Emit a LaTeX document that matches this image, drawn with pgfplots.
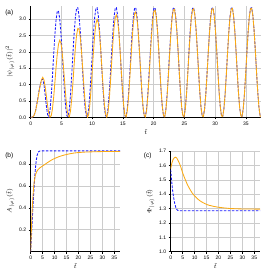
\documentclass[border=0pt]{standalone}
\usepackage{fontspec}
\setmainfont{Liberation Sans}
\usepackage{pgfplots}
\usepackage{pgfplotstable}
\pgfplotsset{compat=1.18}
\definecolor{myorange}{RGB}{250,170,20}
\definecolor{myblue}{RGB}{25,25,255}

\pgfplotstableread{
t b o
0 0 0
0.196 0.003 0.003
0.393 0.02 0.02
0.589 0.08 0.075
0.785 0.20 0.19
0.982 0.39 0.37
1.178 0.61 0.58
1.374 0.83 0.80
1.571 1.01 1.00
1.767 1.15 1.15
1.963 1.16 1.22
2.160 1.00 1.14
2.356 0.68 0.93
2.553 0.34 0.643
2.749 0.085 0.352
2.945 0.001 0.121
3.142 0.22 0.006
3.338 0.65 0.046
3.534 1.24 0.252
3.731 1.91 0.604
3.927 2.51 1.052
4.123 2.97 1.520
4.320 3.23 1.934
4.516 3.25 2.228
4.712 3.02 2.351
4.909 2.58 2.273
5.105 2.00 2.010
5.301 1.36 1.605
5.498 0.76 1.127
5.694 0.30 0.654
5.890 0.041 0.269
6.087 0.024 0.041
6.283 0.259 0.015
6.480 0.711 0.201
6.676 1.311 0.572
6.872 1.968 1.072
7.069 2.582 1.620
7.265 3.060 2.125
7.461 3.328 2.511
7.658 3.346 2.713
7.854 3.111 2.696
8.050 2.659 2.461
8.247 2.059 2.049
8.443 1.402 1.525
8.639 0.785 0.975
8.836 0.310 0.487
9.032 0.042 0.143
9.228 0.024 0.002
9.425 0.259 0.087
9.621 0.711 0.388
9.817 1.311 0.861
10.014 1.968 1.433
10.210 2.582 2.014
10.407 3.060 2.517
10.603 3.328 2.860
10.799 3.346 2.991
10.996 3.111 2.885
11.192 2.659 2.557
11.388 2.059 2.061
11.585 1.402 1.476
11.781 0.785 0.893
11.977 0.310 0.406
12.174 0.042 0.093
12.370 0.024 0.002
12.566 0.259 0.149
12.763 0.711 0.512
12.959 1.311 1.039
13.155 1.968 1.647
13.352 2.582 2.242
13.548 3.060 2.734
13.744 3.328 3.045
13.941 3.346 3.126
14.137 3.111 2.965
14.334 2.659 2.588
14.530 2.059 2.052
14.726 1.402 1.440
14.923 0.785 0.847
15.119 0.310 0.365
15.315 0.042 0.070
15.512 0.024 0.008
15.708 0.259 0.190
15.904 0.711 0.591
16.101 1.311 1.148
16.297 1.968 1.776
16.493 2.582 2.380
16.690 3.060 2.866
16.886 3.328 3.161
17.082 3.346 3.218
17.279 3.111 3.029
17.475 2.659 2.620
17.671 2.059 2.057
17.868 1.402 1.426
18.064 0.785 0.823
18.261 0.310 0.343
18.457 0.042 0.058
18.653 0.024 0.013
18.850 0.259 0.216
19.046 0.711 0.647
19.242 1.311 1.222
19.439 1.968 1.861
19.635 2.582 2.469
19.831 3.060 2.951
20.028 3.328 3.234
20.224 3.346 3.275
20.420 3.111 3.067
20.617 2.659 2.642
20.813 2.059 2.065
21.009 1.402 1.424
21.206 0.785 0.816
21.402 0.310 0.335
21.598 0.042 0.054
21.795 0.024 0.015
21.991 0.259 0.235
22.188 0.711 0.669
22.384 1.311 1.253
22.580 1.968 1.899
22.777 2.582 2.509
22.973 3.060 2.990
23.169 3.328 3.269
23.366 3.346 3.302
23.562 3.111 3.085
23.758 2.659 2.651
23.955 2.059 2.066
24.151 1.402 1.419
24.347 0.785 0.809
24.544 0.310 0.328
24.740 0.042 0.050
24.936 0.024 0.018
25.133 0.259 0.243
25.329 0.711 0.683
25.525 1.311 1.273
25.722 1.968 1.923
25.918 2.582 2.534
26.114 3.060 3.012
26.311 3.328 3.286
26.507 3.346 3.315
26.704 3.111 3.092
26.900 2.659 2.652
27.096 2.059 2.062
27.293 1.402 1.411
27.489 0.785 0.798
27.685 0.310 0.321
27.882 0.042 0.047
28.078 0.024 0.020
28.274 0.259 0.249
28.471 0.711 0.692
28.667 1.311 1.285
28.863 1.968 1.938
29.060 2.582 2.550
29.256 3.060 3.028
29.452 3.328 3.300
29.649 3.346 3.324
29.845 3.111 3.097
30.041 2.659 2.652
30.238 2.059 2.059
30.434 1.402 1.406
30.631 0.785 0.793
30.827 0.310 0.317
31.023 0.042 0.045
31.220 0.024 0.021
31.416 0.259 0.253
31.612 0.711 0.699
31.809 1.311 1.295
32.005 1.968 1.947
32.201 2.582 2.559
32.398 3.060 3.036
32.594 3.328 3.306
32.790 3.346 3.328
32.987 3.111 3.098
33.183 2.659 2.651
33.379 2.059 2.056
33.576 1.402 1.403
33.772 0.785 0.788
33.969 0.310 0.313
34.165 0.042 0.044
34.361 0.024 0.022
34.558 0.259 0.255
34.754 0.711 0.703
34.950 1.311 1.300
35.147 1.968 1.954
35.343 2.582 2.566
35.539 3.060 3.043
35.736 3.328 3.312
35.932 3.346 3.332
36.128 3.111 3.100
36.325 2.659 2.653
36.521 2.059 2.055
36.717 1.402 1.401
36.914 0.785 0.787
37.110 0.310 0.312
37.306 0.042 0.043
37.4 0.0 0.0
}\dataA

\pgfplotstableread{
t A
0 0
0.3 0.13
0.6 0.26
0.9 0.39
1.2 0.51
1.5 0.62
1.8 0.71
2.1 0.785
2.4 0.84
2.7 0.877
3.0 0.898
3.3 0.909
3.6 0.914
4.0 0.916
5.0 0.917
37.4 0.917
}\Ablue

\pgfplotstableread{
t A
0 0
0.1 0.075
0.2 0.15
0.3 0.21
0.45 0.29
0.6 0.37
0.8 0.45
1.0 0.52
1.25 0.59
1.5 0.64
1.75 0.675
2.0 0.70
2.5 0.728
3.0 0.745
3.5 0.756
4 0.765
5 0.78
6 0.795
7 0.81
8 0.824
9 0.837
10 0.848
12 0.866
14 0.879
16 0.889
18 0.897
20 0.902
22.5 0.906
25 0.908
30 0.911
37.4 0.912
}\Aorange

\pgfplotstableread{
t P
0 1.571
0.35 1.50
0.7 1.44
1.05 1.395
1.4 1.36
1.75 1.33
2.1 1.31
2.45 1.297
2.8 1.289
3.2 1.286
3.6 1.285
37.4 1.285
}\Pblue

\pgfplotstableread{
t P
0 1.577
0.5 1.617
1 1.641
1.5 1.653
2 1.657
2.5 1.652
3 1.637
3.5 1.620
4 1.600
4.5 1.575
5 1.548
6 1.505
7 1.466
8 1.435
9 1.408
10 1.388
11 1.371
12 1.357
13 1.346
14 1.337
15 1.329
16 1.323
18 1.315
20 1.309
22.5 1.304
25 1.300
30 1.297
37.4 1.296
}\Porange

\pgfplotsset{
  panel/.style={
    scale only axis,
    anchor=south west,
    axis lines*=left,
    xmin=0, xmax=37.4,
    xtick={0,5,10,15,20,25,30,35},
    grid=major,
    grid style={gray!40, line width=0.45pt},
    tick align=outside,
    major tick length=2pt,
    tick style={black, line width=0.4pt},
    axis line style={black, line width=0.5pt},
    tick label style={font=\fontsize{5}{6}\selectfont},
    label style={font=\fontsize{6}{7}\selectfont},
    /pgf/number format/assume math mode=true,
    xticklabel style={/pgf/number format/fixed, yshift=1pt},
    yticklabel style={/pgf/number format/fixed, /pgf/number format/fixed zerofill, /pgf/number format/precision=1, xshift=1pt},
    xlabel={$\tilde{t}$},
    xlabel style={yshift=3pt},
    ylabel style={yshift=-2pt},
    clip=true,
  },
  bl/.style={myblue, line width=0.85pt, dash pattern=on 2.6pt off 1.4pt},
  or/.style={myorange, line width=0.85pt},
}

\begin{document}
\begin{tikzpicture}
\path[use as bounding box] (0pt,0pt) rectangle (275pt,275pt);

\begin{axis}[panel, at={(30.7pt,157.7pt)}, width=230pt, height=111.3pt,
  ymin=0, ymax=3.4, ytick={0,0.5,1,1.5,2,2.5,3},
  ylabel={$|\psi_{|\varphi\rangle}(\tilde{t})|^2$}]
\addplot[bl] table[x=t,y=b]{\dataA};
\addplot[or] table[x=t,y=o]{\dataA};
\end{axis}

\begin{axis}[panel, at={(30.7pt,23.3pt)}, width=89.3pt, height=101.7pt,
  ymin=0, ymax=0.925, ytick={0.2,0.4,0.6,0.8},
  ylabel={$A_{|\varphi\rangle}(\tilde{t})$}]
\addplot[bl] table[x=t,y=A]{\Ablue};
\addplot[or] table[x=t,y=A]{\Aorange};
\end{axis}

\begin{axis}[panel, at={(170.7pt,23.3pt)}, width=89.3pt, height=100.7pt,
  ymin=1.0, ymax=1.7, ytick={1.0,1.1,1.2,1.3,1.4,1.5,1.6,1.7},
  ylabel={$\Phi_{|\varphi\rangle}(\tilde{t})$}]
\addplot[or] table[x=t,y=P]{\Porange};
\addplot[bl] table[x=t,y=P]{\Pblue};
\end{axis}

\node[font=\fontsize{6.5}{7}\selectfont] at (9.3pt,262.3pt) {(a)};
\node[font=\fontsize{6.5}{7}\selectfont] at (9.3pt,119.3pt) {(b)};
\node[font=\fontsize{6.5}{7}\selectfont] at (147.7pt,119.3pt) {(c)};
\end{tikzpicture}
\end{document}
